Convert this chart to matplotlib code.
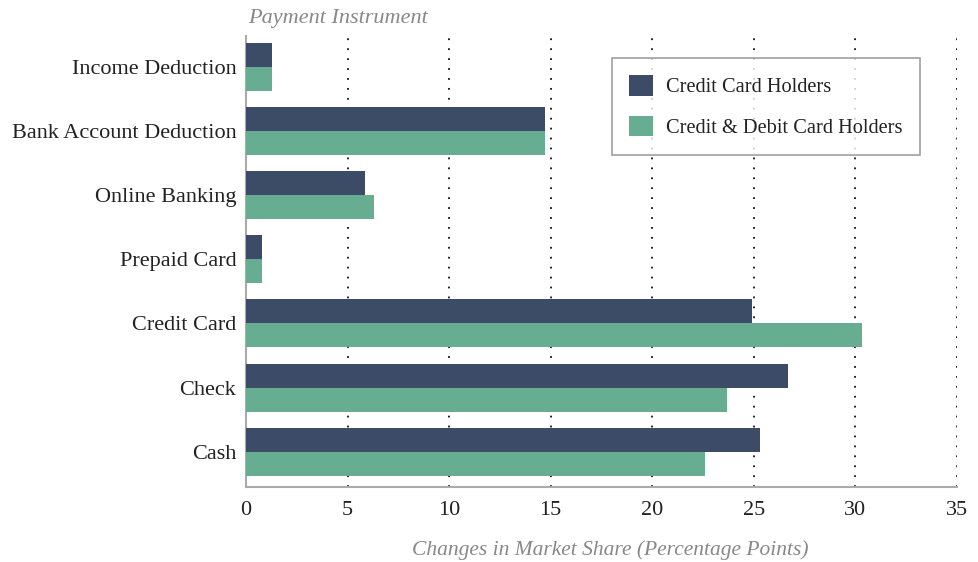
import matplotlib
matplotlib.use("Agg")
import matplotlib.pyplot as plt
import numpy as np

categories = ["Income Deduction", "Bank Account Deduction", "Online Banking",
              "Prepaid Card", "Credit Card", "Check", "Cash"]
credit_holders = [1.3, 14.7, 5.85, 0.8, 24.9, 26.7, 25.3]
credit_debit_holders = [1.3, 14.7, 6.3, 0.8, 30.3, 23.7, 22.6]
xticks = [0, 5, 10, 15, 20, 25, 30, 35]

dark = "#3C4C66"
green = "#66AD92"
plt.rcParams['font.family'] = ['Liberation Serif', 'DejaVu Serif']

fig = plt.figure(figsize=(9.79, 5.62), dpi=100)
ax = fig.add_axes([246/979, 75/562, 711/979, 451/562])

y = np.arange(len(categories))
h = 0.375
ax.barh(y - h/2, credit_holders, height=h, color=dark, label="Credit Card Holders", zorder=3)
ax.barh(y + h/2, credit_debit_holders, height=h, color=green, label="Credit & Debit Card Holders", zorder=3)

ax.set_xlim(0, 35)
ax.set_ylim(6.55, -0.48)
ax.set_yticks(y)
ax.set_yticklabels(categories, fontsize=16, color="#222222")
ax.set_xticks(xticks)
ax.set_xticklabels([str(t) for t in xticks], fontsize=16, color="#222222")
ax.tick_params(axis='both', length=0)
ax.tick_params(axis='y', pad=7)
ax.tick_params(axis='x', pad=10)

for t in xticks[1:]:
    ax.axvline(t, color="#111111", linestyle=(0, (1, 4.5)), linewidth=1.3, zorder=1)

for s in ["top", "right"]:
    ax.spines[s].set_visible(False)
for s in ["left", "bottom"]:
    ax.spines[s].set_color("#aaaaaa")
    ax.spines[s].set_linewidth(1.5)

leg = ax.legend(loc="upper right", bbox_to_anchor=(920/979, 504/562), bbox_transform=fig.transFigure,
                fontsize=14.7, frameon=True, fancybox=False, handlelength=1.15, handleheight=1.15,
                handletextpad=0.65, labelspacing=0.9, borderpad=0.85, borderaxespad=0)
leg.get_frame().set_edgecolor("#888888")
leg.get_frame().set_linewidth(1.2)
for t in leg.get_texts():
    t.set_color("#222222")

fig.text(248/979, 1 - 18/562, "Payment Instrument", fontsize=16, style="italic",
         color="#888888", ha="left", va="center")
fig.text(610/979, 1 - 550/562, "Changes in Market Share (Percentage Points)", fontsize=15.5,
         style="italic", color="#888888", ha="center", va="center")

fig.savefig("out.png", dpi=100)
